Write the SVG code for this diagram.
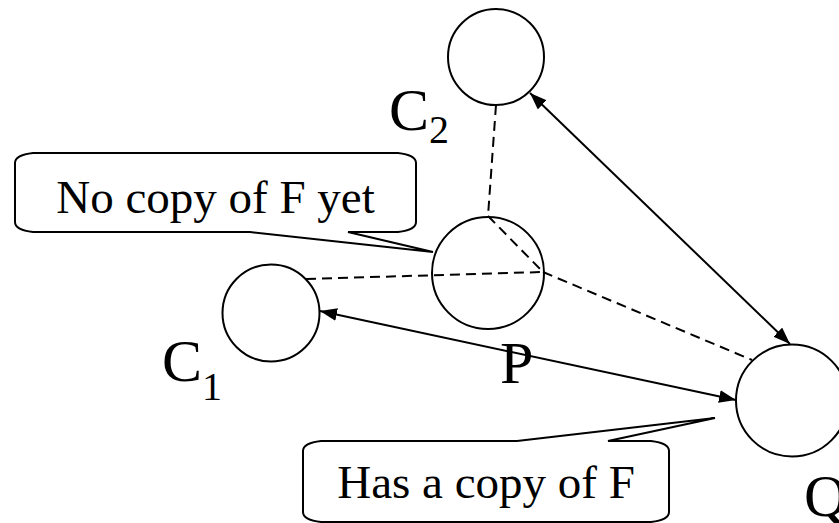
<svg xmlns="http://www.w3.org/2000/svg" width="839" height="523" viewBox="0 0 839 523">
<style>
.node{fill:#fff;stroke:#000;stroke-width:2}
.lbl{font-family:'Liberation Serif','Times New Roman',serif;font-size:60px;fill:#000}
.sub{font-size:40px}
.call{fill:#fff;stroke:#000;stroke-width:2;stroke-linejoin:miter}
.ctext{font-family:'Liberation Serif','Times New Roman',serif;font-size:47px;fill:#000;text-anchor:middle}
.dash{fill:none;stroke:#000;stroke-width:2;stroke-dasharray:10 6}
.arr{fill:none;stroke:#000;stroke-width:2;marker-start:url(#ah);marker-end:url(#ah)}
</style>
<defs>
<marker id="ah" viewBox="0 0 16 12" refX="16" refY="6" markerWidth="17" markerHeight="13" markerUnits="userSpaceOnUse" orient="auto-start-reverse">
<path d="M0,0 L16,6 L0,12 Z" fill="#000"/>
</marker>
</defs>
<rect width="839" height="523" fill="#fff"/>
<g id="connectors">
<line class="dash" x1="496" y1="105" x2="488" y2="216"/>
<line class="dash" x1="488" y1="216" x2="543" y2="272"/>
<line class="dash" x1="306" y1="279" x2="543" y2="272"/>
<line class="dash" x1="543" y1="272" x2="752" y2="360"/>
<line class="arr" x1="530" y1="93" x2="790" y2="344"/>
<line class="arr" x1="320" y1="311" x2="736" y2="400"/>
</g>
<g id="C2">
<circle class="node" cx="496" cy="57" r="48"/>
<text class="lbl" x="389" y="130">C<tspan class="sub" dy="13">2</tspan></text>
</g>
<g id="P">
<circle class="node" cx="488" cy="273" r="56" style="fill:none"/>
<text class="lbl" x="500" y="383">P</text>
</g>
<g id="C1">
<circle class="node" cx="271" cy="313" r="48.5"/>
<text class="lbl" x="162" y="381">C<tspan class="sub" dy="19">1</tspan></text>
</g>
<g id="Q">
<circle class="node" cx="792" cy="400.5" r="56"/>
<text class="lbl" x="804" y="516">Q</text>
</g>
<g id="callout1">
<path class="call" d="M33,153 L398,153 Q416,155 416,163 L416,222 Q416,230 398,232 L348,232 L433,252 L250,232 L33,232 Q15,230 15,222 L15,163 Q15,155 33,153 Z"/>
<text class="ctext" x="215.5" y="213">No copy of F yet</text>
</g>
<g id="callout2">
<path class="call" d="M321,441 L517,441 L715,418 L608,441 L651,441 Q669,443 669,451 L669,512 Q669,520 651,522 L321,522 Q303,520 303,512 L303,451 Q303,443 321,441 Z"/>
<text class="ctext" x="486" y="498">Has a copy of F</text>
</g>
</svg>
